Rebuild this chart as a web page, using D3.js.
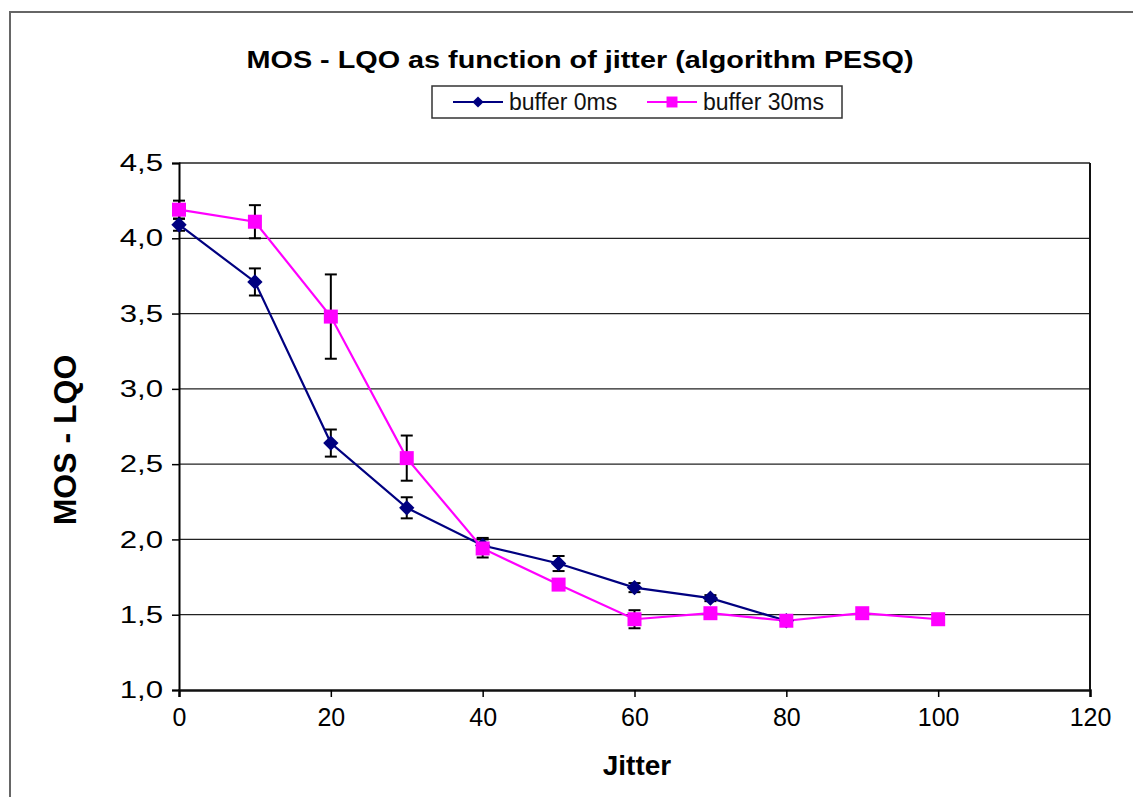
<!DOCTYPE html>
<html>
<head>
<meta charset="utf-8">
<script src="https://cdn.jsdelivr.net/npm/d3@7"></script>
<style>
  body { margin: 0; background: #fff; }
  text { font-family: "Liberation Sans", Arial, sans-serif; }
</style>
</head>
<body>
<div id="chart"></div>
<script>
// buffer 0ms
var jitter0 = [0, 10, 20, 30, 40, 50, 60, 70, 80];
var mos0 = [4.09, 3.71, 2.64, 2.21, 1.96, 1.84, 1.68, 1.61, 1.46];
var err0 = [0.04, 0.09, 0.09, 0.07, 0.05, 0.05, 0.03, 0.02, 0.02];

// buffer 30ms
var jitter30 = [0, 10, 20, 30, 40, 50, 60, 70, 80, 90, 100];
var mos30 = [4.19, 4.11, 3.48, 2.54, 1.94, 1.70, 1.47, 1.51, 1.46, 1.51, 1.47];
var err30 = [0.06, 0.11, 0.28, 0.15, 0.06, 0, 0.06, 0, 0.02, 0, 0];

var xTicks = [0, 20, 40, 60, 80, 100, 120];
var yTicks = [1.0, 1.5, 2.0, 2.5, 3.0, 3.5, 4.0, 4.5];
var seriesNames = ["buffer 0ms", "buffer 30ms"];
var seriesColors = ["#000080", "#ff00ff"];

var W = 1133, H = 797;
var margin = { top: 163, right: 43, bottom: 107, left: 179 };
var width = W - margin.left - margin.right;
var height = H - margin.top - margin.bottom;

var svg = d3.select("#chart").append("svg")
  .attr("width", W)
  .attr("height", H);

// outer frame
svg.append("rect")
  .attr("x", 10).attr("y", 12)
  .attr("width", 1140).attr("height", 800)
  .attr("fill", "none")
  .attr("stroke", "#666")
  .attr("stroke-width", 2);

var g = svg.append("g")
  .attr("transform", "translate(" + margin.left + "," + margin.top + ")");

var x = d3.scaleLinear().domain([0, 120]).range([0, width]);
var y = d3.scaleLinear().domain([1, 4.5]).range([height, 0]);

// gridlines
g.append("g")
  .selectAll("line")
  .data(yTicks.slice(1))
  .enter().append("line")
    .attr("x1", 0).attr("x2", width)
    .attr("y1", function(d) { return y(d); })
    .attr("y2", function(d) { return y(d); })
    .attr("stroke", "#222")
    .attr("stroke-width", 1.3);

// right edge of plot area
g.append("line")
  .attr("x1", width).attr("x2", width)
  .attr("y1", 0).attr("y2", height)
  .attr("stroke", "#111")
  .attr("stroke-width", 2);

var fmt = function(d) { return d3.format(".1f")(d).replace(".", ","); };

var yAxis = g.append("g")
  .call(d3.axisLeft(y).tickValues(yTicks).tickFormat(fmt).tickSize(7).tickPadding(9));
yAxis.select(".domain").attr("stroke", "#000").attr("stroke-width", 2);
yAxis.selectAll(".tick line").attr("stroke", "#000").attr("stroke-width", 1.5);
// labels are drawn a bit wide, like the original
yAxis.selectAll(".tick text")
  .attr("font-size", 24).attr("fill", "#000")
  .attr("x", 0)
  .attr("transform", "translate(-16,0) scale(1.3,1)");

var xAxis = g.append("g")
  .attr("transform", "translate(0," + height + ")")
  .call(d3.axisBottom(x).tickValues(xTicks).tickSize(7).tickPadding(11));
xAxis.select(".domain").attr("stroke", "#111").attr("stroke-width", 2.5);
xAxis.selectAll(".tick line").attr("stroke", "#000").attr("stroke-width", 1.5);
xAxis.selectAll("text").attr("font-size", 25).attr("fill", "#000");

// series
var series = [
  { xs: jitter0, ys: mos0, es: err0 },
  { xs: jitter30, ys: mos30, es: err30 }
];

series.forEach(function(s) {
  var pts = s.xs.map(function(v, i) { return { x: v, y: s.ys[i], e: s.es[i] }; });
  var eb = g.append("g").selectAll("g")
    .data(pts.filter(function(d) { return d.e > 0; }))
    .enter().append("g")
    .attr("stroke", "#000")
    .attr("stroke-width", 2);
  eb.append("line")
    .attr("x1", function(d) { return x(d.x); }).attr("x2", function(d) { return x(d.x); })
    .attr("y1", function(d) { return y(d.y - d.e); }).attr("y2", function(d) { return y(d.y + d.e); });
  eb.append("line")
    .attr("x1", function(d) { return x(d.x) - 6; }).attr("x2", function(d) { return x(d.x) + 6; })
    .attr("y1", function(d) { return y(d.y + d.e); }).attr("y2", function(d) { return y(d.y + d.e); });
  eb.append("line")
    .attr("x1", function(d) { return x(d.x) - 6; }).attr("x2", function(d) { return x(d.x) + 6; })
    .attr("y1", function(d) { return y(d.y - d.e); }).attr("y2", function(d) { return y(d.y - d.e); });
  s.pts = pts;
});

var line = d3.line()
  .x(function(d) { return x(d.x); })
  .y(function(d) { return y(d.y); });

series.forEach(function(s, i) {
  g.append("path")
    .datum(s.pts)
    .attr("fill", "none")
    .attr("stroke", seriesColors[i])
    .attr("stroke-width", 2.2)
    .attr("d", line);
});

var diamond = d3.symbol().type(d3.symbolDiamond2).size(150);
var square = d3.symbol().type(d3.symbolSquare).size(196);

g.append("g").selectAll("path")
  .data(series[0].pts)
  .enter().append("path")
    .attr("transform", function(d) { return "translate(" + x(d.x) + "," + y(d.y) + ")"; })
    .attr("d", diamond)
    .attr("fill", seriesColors[0]);

g.append("g").selectAll("path")
  .data(series[1].pts)
  .enter().append("path")
    .attr("transform", function(d) { return "translate(" + x(d.x) + "," + y(d.y) + ")"; })
    .attr("d", square)
    .attr("fill", seriesColors[1]);

// title
svg.append("text")
  .attr("transform", "translate(580,68) scale(1.2,1)")
  .attr("text-anchor", "middle")
  .attr("font-size", 24)
  .attr("font-weight", "bold")
  .text("MOS - LQO as function of jitter (algorithm PESQ)");

// axis titles
svg.append("text")
  .attr("x", 637).attr("y", 775)
  .attr("text-anchor", "middle")
  .attr("font-size", 28)
  .attr("font-weight", "bold")
  .text("Jitter");

svg.append("text")
  .attr("transform", "translate(76,440) rotate(-90)")
  .attr("text-anchor", "middle")
  .attr("font-size", 32)
  .attr("font-weight", "bold")
  .text("MOS - LQO");

// legend
var legend = svg.append("g");
legend.append("rect")
  .attr("x", 432).attr("y", 86)
  .attr("width", 410).attr("height", 32)
  .attr("fill", "#fff")
  .attr("stroke", "#333")
  .attr("stroke-width", 1.5);

var legendX = [453, 647];
var legendSym = [d3.symbol().type(d3.symbolDiamond2).size(80), d3.symbol().type(d3.symbolSquare).size(120)];
seriesNames.forEach(function(name, i) {
  var lg = legend.append("g").attr("transform", "translate(" + legendX[i] + ",102)");
  lg.append("line")
    .attr("x1", 0).attr("x2", 50)
    .attr("stroke", seriesColors[i])
    .attr("stroke-width", 2.2);
  lg.append("path")
    .attr("transform", "translate(25,0)")
    .attr("d", legendSym[i])
    .attr("fill", seriesColors[i]);
  lg.append("text")
    .attr("x", 56).attr("y", 8)
    .attr("font-size", 23)
    .attr("fill", "#111")
    .text(name);
});
</script>
</body>
</html>
